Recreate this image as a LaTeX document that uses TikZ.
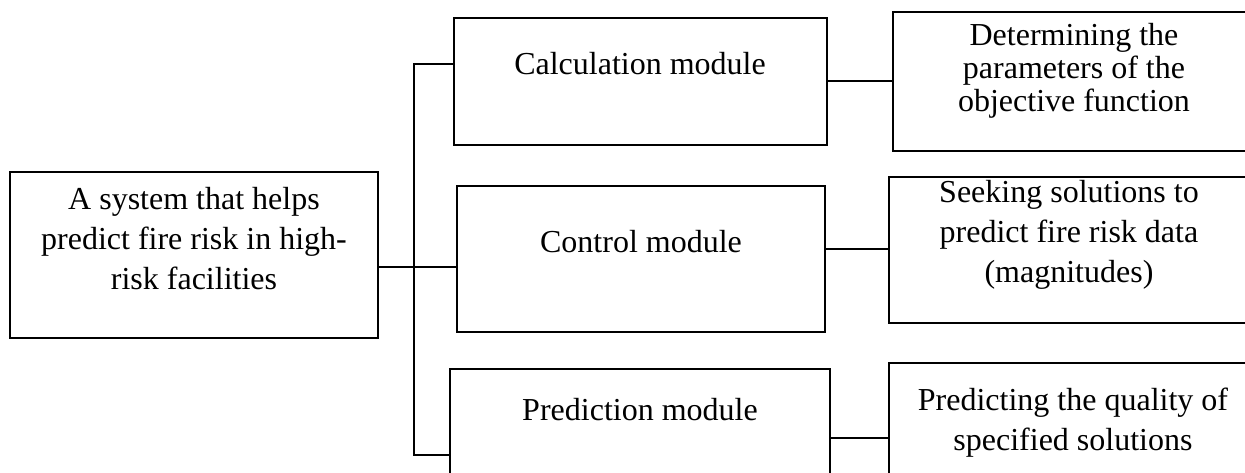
\documentclass[tikz,border=0pt]{standalone}
\usepackage{fontspec}
\setmainfont{Liberation Serif}
\begin{document}
\begin{tikzpicture}[x=1pt,y=-1pt,
  box/.style={draw, line width=2.6pt, rectangle, inner sep=0pt, outer sep=0pt},
  txt/.style={font=\fontsize{32}{40}\selectfont, align=center, inner sep=0pt},
  tight/.style={font=\fontsize{32}{33}\selectfont},
  link/.style={line width=2.6pt}]
\useasboundingbox (0,0) rectangle (1245,473);
\fill[white] (0,0) rectangle (1245,473);
% boxes
\node[box, minimum width=368pt, minimum height=166pt] (sys)  at (194,255) {};
\node[box, minimum width=373pt, minimum height=127pt] (calc) at (640.5,81.5) {};
\node[box, minimum width=372pt, minimum height=139pt] (det)  at (1079,81.5) {};
\node[box, minimum width=368pt, minimum height=146pt] (ctrl) at (641,259) {};
\node[box, minimum width=376pt, minimum height=146pt] (seek) at (1077,250) {};
\node[box, minimum width=380pt, minimum height=121pt] (pred) at (640,429.5) {};
\node[box, minimum width=376pt, minimum height=127pt] (qual) at (1077,426.5) {};
% texts
\node[txt, anchor=north] (systxt) at (194,181) {\strut A system that helps\\predict fire risk in high-\\risk facilities};
\node[txt, anchor=base] (calctxt) at (640,75) {Calculation module};
\node[txt, tight, anchor=north] (dettxt) at (1074,22) {\strut Determining the\\parameters of the\\objective function};
\node[txt, anchor=base] (ctrltxt) at (641,253) {Control module};
\node[txt, anchor=north] (seektxt) at (1069,174) {\strut Seeking solutions to\\predict fire risk data\\(magnitudes)};
\node[txt, anchor=base] (predtxt) at (640,420) {Prediction module};
\node[txt, anchor=north] (qualtxt) at (1073,382) {\strut Predicting the quality of\\specified solutions};
% bus
\coordinate (bustop) at (414,64);
\coordinate (busbot) at (414,455);
\coordinate (busmid) at (414,267);
\draw[link] (calc.west |- bustop) -- (bustop) -- (busbot) -- (pred.west |- busbot);
\draw[link] (sys.east |- busmid) -- (ctrl.west |- busmid);
% right connectors
\draw[link] (calc.east |- 0,81) -- (det.west |- 0,81);
\draw[link] (ctrl.east |- 0,249) -- (seek.west |- 0,249);
\draw[link] (pred.east |- 0,438) -- (qual.west |- 0,438);
\end{tikzpicture}
\end{document}
